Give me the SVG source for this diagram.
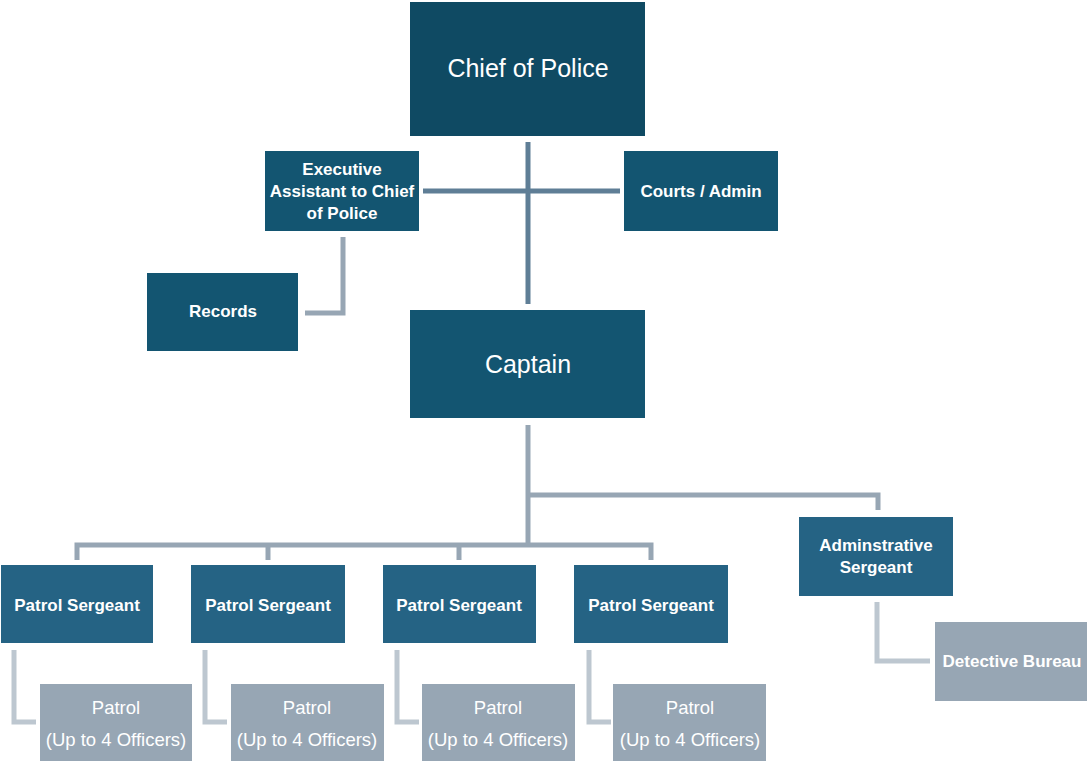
<svg xmlns="http://www.w3.org/2000/svg" width="1087" height="761" viewBox="0 0 1087 761">
<style>
.t{font-family:"Liberation Sans",Arial,sans-serif;fill:#ffffff;text-anchor:middle}
.b{font-size:17px;font-weight:bold}
.big{font-size:25px}
.n{font-size:18.5px}
.dark{fill:#0f4a63}
.mid{fill:#135571}
.ser{fill:#256384}
.lite{fill:#97a6b4}
.c1{stroke:#5f7e96;stroke-width:5;fill:none}
.c2{stroke:#97a6b4;stroke-width:5;fill:none}
.c3{stroke:#bdc7d0;stroke-width:5;fill:none}
</style>
<rect width="1087" height="761" fill="#ffffff"/>
<g id="connectors">
<path class="c1" d="M528 142 V304"/>
<path class="c1" d="M423 191 H620"/>
<path class="c2" d="M343 237 V313 H305"/>
<path class="c2" d="M528 425 V545"/>
<path class="c2" d="M528 495 H878 V510"/>
<path class="c2" d="M77 560 V545 H651 V560"/>
<path class="c2" d="M268 545 V560"/>
<path class="c2" d="M459 545 V560"/>
<path class="c3" d="M877 602 V661 H930"/>
<path class="c3" d="M14 650 V722 H36"/>
<path class="c3" d="M205 650 V722 H227"/>
<path class="c3" d="M397 650 V722 H419"/>
<path class="c3" d="M589 650 V722 H611"/>
</g>
<g id="chief"><rect class="dark" x="410" y="2" width="235" height="134"/><text class="t big" x="528" y="77">Chief of Police</text></g>
<g id="exec"><rect class="mid" x="265" y="151" width="154" height="80"/><text class="t b" x="342" y="175">Executive</text><text class="t b" x="342" y="197">Assistant to Chief</text><text class="t b" x="342" y="219">of Police</text></g>
<g id="courts"><rect class="mid" x="624" y="151" width="154" height="80"/><text class="t b" x="701" y="197">Courts / Admin</text></g>
<g id="records"><rect class="mid" x="147" y="273" width="151" height="78"/><text class="t b" x="223" y="317">Records</text></g>
<g id="captain"><rect class="mid" x="410" y="310" width="235" height="108"/><text class="t big" x="528" y="373">Captain</text></g>
<g id="ps1"><rect class="ser" x="1" y="565" width="152" height="78"/><text class="t b" x="77" y="611">Patrol Sergeant</text></g>
<g id="ps2"><rect class="ser" x="191" y="565" width="154" height="78"/><text class="t b" x="268" y="611">Patrol Sergeant</text></g>
<g id="ps3"><rect class="ser" x="383" y="565" width="153" height="78"/><text class="t b" x="459" y="611">Patrol Sergeant</text></g>
<g id="ps4"><rect class="ser" x="574" y="565" width="154" height="78"/><text class="t b" x="651" y="611">Patrol Sergeant</text></g>
<g id="adminsgt"><rect class="ser" x="799" y="517" width="154" height="79"/><text class="t b" x="876" y="551">Adminstrative</text><text class="t b" x="876" y="573">Sergeant</text></g>
<g id="detective"><rect class="lite" x="935" y="622" width="152" height="79"/><text class="t b" x="1012" y="667">Detective Bureau</text></g>
<g id="p1"><rect class="lite" x="40" y="684" width="152" height="77"/><text class="t n" x="116" y="714">Patrol</text><text class="t n" x="116" y="746">(Up to 4 Officers)</text></g>
<g id="p2"><rect class="lite" x="231" y="684" width="153" height="77"/><text class="t n" x="307" y="714">Patrol</text><text class="t n" x="307" y="746">(Up to 4 Officers)</text></g>
<g id="p3"><rect class="lite" x="422" y="684" width="153" height="77"/><text class="t n" x="498" y="714">Patrol</text><text class="t n" x="498" y="746">(Up to 4 Officers)</text></g>
<g id="p4"><rect class="lite" x="613" y="684" width="153" height="77"/><text class="t n" x="690" y="714">Patrol</text><text class="t n" x="690" y="746">(Up to 4 Officers)</text></g>
</svg>
